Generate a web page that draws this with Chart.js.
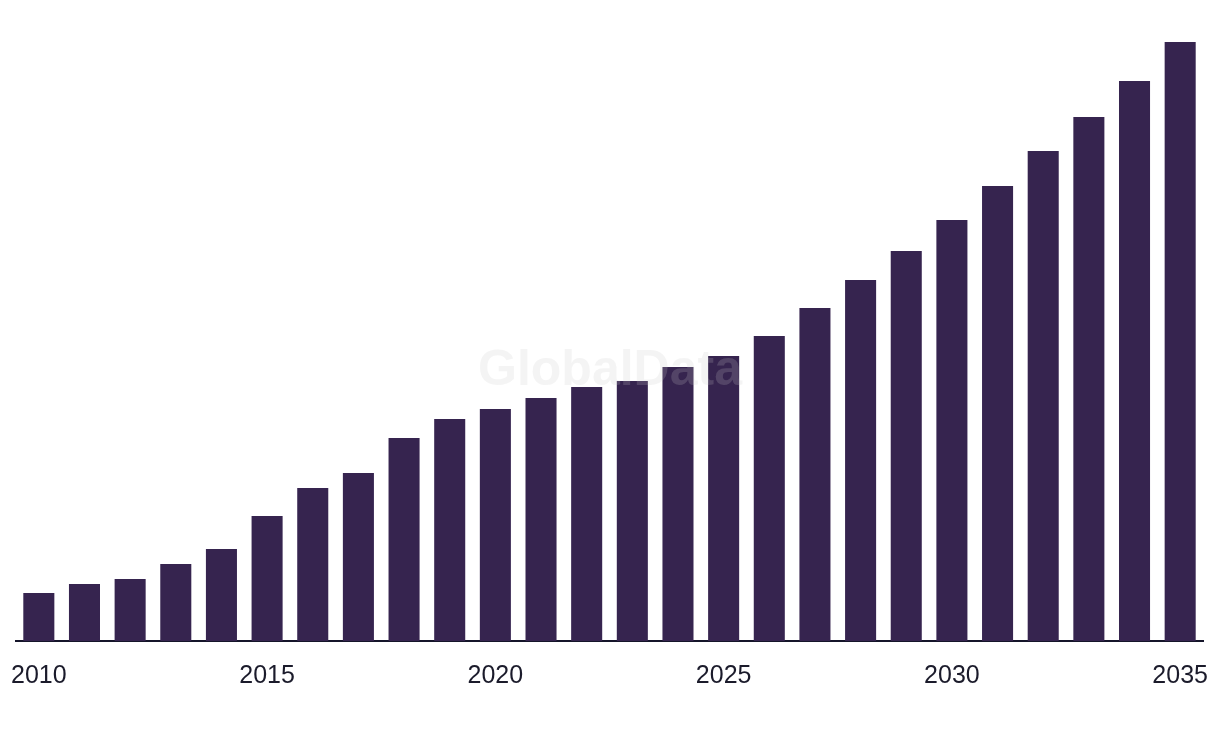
<!DOCTYPE html>
<html>
<head>
<meta charset="utf-8">
<script src="https://cdn.jsdelivr.net/npm/chart.js@4.4.0/dist/chart.umd.min.js"></script>
<style>
  html, body { margin: 0; padding: 0; background: #fff; }
  #wrap { width: 1220px; height: 738px; position: relative; }
</style>
</head>
<body>
<div id="wrap"><canvas id="chart"></canvas></div>
<script>
// years on the x axis
const years = ['2010','2011','2012','2013','2014','2015','2016','2017','2018','2019','2020','2021','2022',
               '2023','2024','2025','2026','2027','2028','2029','2030','2031','2032','2033','2034','2035'];
// bar values (no y axis in the source)
const values = [48, 57, 62, 77, 92, 125, 153, 168, 203, 222, 232, 243, 254,
                260, 274, 285, 305, 333, 361, 390, 421, 455, 490, 524, 560, 599];
const yMax = 600;

// faint brand watermark over the plot
const watermark = {
    id: 'watermark',
    afterDatasetsDraw(chart) {
        const ctx = chart.ctx;
        ctx.save();
        ctx.font = 'bold 50px "Liberation Sans", Arial, sans-serif';
        ctx.fillStyle = 'rgba(200,200,200,0.2)';
        ctx.textAlign = 'center';
        ctx.textBaseline = 'alphabetic';
        ctx.fillText('GlobalData', 610, 385);
        ctx.restore();
    }
};

new Chart(document.getElementById('chart'), {
    type: 'bar',
    data: {
        labels: years,
        datasets: [{
            data: values,
            backgroundColor: '#36244f',
            borderWidth: 0,
            barPercentage: 0.68,
            categoryPercentage: 1.0
        }]
    },
    options: {
        responsive: true,
        maintainAspectRatio: false,
        animation: false,
        layout: { padding: { left: 16, right: 17, top: 41, bottom: 27 } },
        plugins: { legend: { display: false }, tooltip: { enabled: false } },
        scales: {
            x: {
                grid: { display: false, drawTicks: false },
                border: { display: true, color: '#15152a', width: 2 },
                ticks: {
                    autoSkip: false,
                    maxRotation: 0,
                    padding: 20,
                    color: '#1b1b2b',
                    font: { family: '"Liberation Sans", Arial, sans-serif', size: 25 },
                    callback: function(v, i) { return i % 5 === 0 ? years[i] : ''; }
                },
                // end labels may hang past the plot edge, as in the original
                afterFit: function(scale) { scale.paddingLeft = 0; scale.paddingRight = 0; }
            },
            y: {
                display: false,
                min: 0,
                max: yMax
            }
        }
    },
    plugins: [watermark]
});
</script>
</body>
</html>
